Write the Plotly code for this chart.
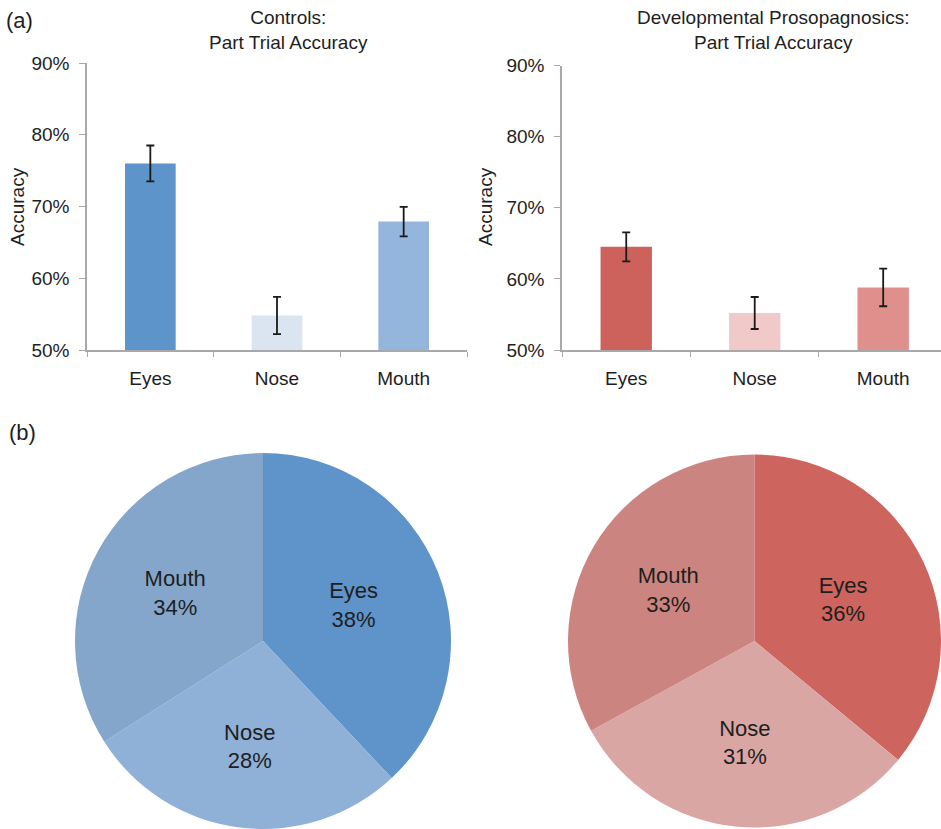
import plotly.graph_objects as go

W, H = 941, 829

# ---------------- data ----------------
parts = ["Eyes", "Nose", "Mouth"]

ctrl_acc = [76.0, 54.8, 67.9]
ctrl_err = [2.5, 2.6, 2.05]
dp_acc = [64.5, 55.2, 58.8]
dp_err = [2.05, 2.25, 2.65]

ctrl_pie = [38, 28, 34]
dp_pie = [36, 31, 33]

y_ticks = [50, 60, 70, 80, 90]
y_tick_text = ["50%", "60%", "70%", "80%", "90%"]

ctrl_bar_colors = ["#5d94c9", "#dbe4f1", "#95b6dc"]
dp_bar_colors = ["#cc625b", "#f0c9c8", "#df908d"]
ctrl_pie_colors = ["#5e94c9", "#8fb0d7", "#84a6cb"]
dp_pie_colors = ["#cd645e", "#daa6a4", "#cc8480"]

FONT = "Liberation Sans, Arial, sans-serif"
TXT = "#1e1e1e"
AX = "#a8a8a8"


def px(x):
    return x / W


def py(y):
    return 1 - y / H


fig = go.Figure()

fig.add_trace(go.Bar(
    x=parts, y=ctrl_acc, width=0.4, marker=dict(color=ctrl_bar_colors, line=dict(width=0)),
    error_y=dict(type="data", array=ctrl_err, color="#1a1a1a", thickness=1.8, width=4),
    xaxis="x", yaxis="y", showlegend=False, hoverinfo="skip"))

fig.add_trace(go.Bar(
    x=parts, y=dp_acc, width=0.4, marker=dict(color=dp_bar_colors, line=dict(width=0)),
    error_y=dict(type="data", array=dp_err, color="#1a1a1a", thickness=1.8, width=4),
    xaxis="x2", yaxis="y2", showlegend=False, hoverinfo="skip"))

for vals, cols, dom in [
    (ctrl_pie, ctrl_pie_colors, dict(x=[px(75), px(451)], y=[0, py(453)])),
    (dp_pie, dp_pie_colors, dict(x=[px(568), 1.0], y=[0, py(453)])),
]:
    fig.add_trace(go.Pie(
        labels=parts, values=vals, sort=False, direction="clockwise", rotation=0,
        marker=dict(colors=cols, line=dict(width=0)),
        texttemplate="%{label}<br>%{percent:.0%}", textposition="inside",
        insidetextorientation="horizontal",
        textfont=dict(family=FONT, size=22, color=TXT),
        domain=dom, showlegend=False, hoverinfo="skip"))

xcommon = dict(type="category", tickson="boundaries", ticks="outside", ticklen=5,
               tickcolor=AX, showline=True, linecolor=AX, linewidth=1.5,
               showgrid=False, zeroline=False, ticklabelstandoff=10, automargin=False,
               tickfont=dict(family=FONT, size=19, color=TXT), fixedrange=True)
ycommon = dict(range=[50, 90], tickvals=y_ticks, ticktext=y_tick_text, ticks="outside",
               ticklen=6, tickcolor=AX, showline=True, linecolor=AX, linewidth=1.5,
               showgrid=False, zeroline=False, ticklabelstandoff=6, automargin=False,
               tickfont=dict(family=FONT, size=19, color=TXT), fixedrange=True)

fig.update_layout(
    width=W, height=H, margin=dict(l=0, r=0, t=0, b=0, pad=0, autoexpand=False),
    paper_bgcolor="white", plot_bgcolor="white",
    xaxis=dict(domain=[px(87), px(467)], range=[-0.5, 2.5], anchor="y", **xcommon),
    yaxis=dict(domain=[py(350), py(63)], anchor="x", **ycommon),
    xaxis2=dict(domain=[px(562), 1.0], range=[-0.5, 2.45], anchor="y2", **xcommon),
    yaxis2=dict(domain=[py(350), py(65.5)], anchor="x2", **ycommon),
    bargap=0.6,
)

ann = [
    dict(text="(a)", x=px(4), y=py(20), xanchor="left", yanchor="middle", font=dict(size=22)),
    dict(text="(b)", x=px(7), y=py(432), xanchor="left", yanchor="middle", font=dict(size=22)),
    dict(text="Controls:<br>Part Trial Accuracy", x=px(288), y=py(30), xanchor="center",
         yanchor="middle", font=dict(size=19)),
    dict(text="Developmental Prosopagnosics:<br>Part Trial Accuracy", x=px(773), y=py(30),
         xanchor="center", yanchor="middle", font=dict(size=19)),
    dict(text="Accuracy", x=px(17), y=py(207), xanchor="center", yanchor="middle",
         textangle=-90, font=dict(size=19)),
    dict(text="Accuracy", x=px(485), y=py(207), xanchor="center", yanchor="middle",
         textangle=-90, font=dict(size=19)),
]
for a in ann:
    a.update(xref="paper", yref="paper", showarrow=False)
    a["font"].update(family=FONT, color=TXT)
fig.update_layout(annotations=ann)

fig.write_html("out.html", config={"displayModeBar": False})
